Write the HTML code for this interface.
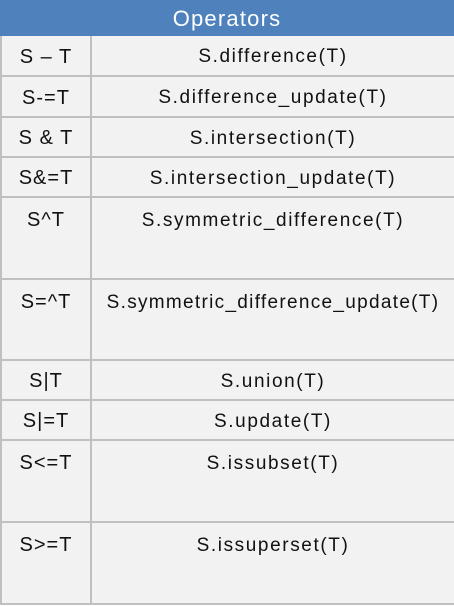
<!DOCTYPE html><html><head><style>
body{margin:0;width:454px;height:607px;background:#fff;position:relative;font-family:"Liberation Sans","DejaVu Sans",sans-serif;overflow:hidden}
.h{position:absolute;left:0;top:0;width:454px;height:36px;background:#4f81bd;color:#fff;font-size:22px;letter-spacing:1.2px;text-align:center;line-height:37px}
.r{position:absolute;left:0;width:452px;background:#f2f2f2;border-bottom:2px solid #c0c0c0;border-left:2px solid #c0c0c0}
.a{position:absolute;left:0;width:88px;top:0;bottom:0;border-right:2px solid #c0c0c0;text-align:center;font-size:20px;letter-spacing:1px;color:#111}
.b{position:absolute;left:90px;right:0;top:0;text-align:center;font-size:19px;letter-spacing:1.6px;color:#111;white-space:nowrap}
</style></head><body>
<div class="h">Operators</div>
<div class="r" style="top:36px;height:39px"><div class="a" style="line-height:42px">S – T</div><div class="b" style="line-height:42px">S.difference(T)</div></div>
<div class="r" style="top:77px;height:39px"><div class="a" style="line-height:42px">S-=T</div><div class="b" style="line-height:42px">S.difference_update(T)</div></div>
<div class="r" style="top:118px;height:38px"><div class="a" style="line-height:41px">S &amp; T</div><div class="b" style="line-height:41px">S.intersection(T)</div></div>
<div class="r" style="top:158px;height:38px"><div class="a" style="line-height:41px">S&amp;=T</div><div class="b" style="line-height:41px">S.intersection_update(T)</div></div>
<div class="r" style="top:198px;height:80px"><div class="a" style="line-height:45px">S^T</div><div class="b" style="line-height:45px">S.symmetric_difference(T)</div></div>
<div class="r" style="top:280px;height:79px"><div class="a" style="line-height:45px">S=^T</div><div class="b" style="line-height:45px;letter-spacing:1.3px">S.symmetric_difference_update(T)</div></div>
<div class="r" style="top:361px;height:38px"><div class="a" style="line-height:41px">S|T</div><div class="b" style="line-height:41px">S.union(T)</div></div>
<div class="r" style="top:401px;height:38px"><div class="a" style="line-height:41px">S|=T</div><div class="b" style="line-height:41px">S.update(T)</div></div>
<div class="r" style="top:441px;height:80px"><div class="a" style="line-height:45px">S&lt;=T</div><div class="b" style="line-height:45px">S.issubset(T)</div></div>
<div class="r" style="top:523px;height:80px"><div class="a" style="line-height:45px">S&gt;=T</div><div class="b" style="line-height:45px">S.issuperset(T)</div></div>
</body></html>
